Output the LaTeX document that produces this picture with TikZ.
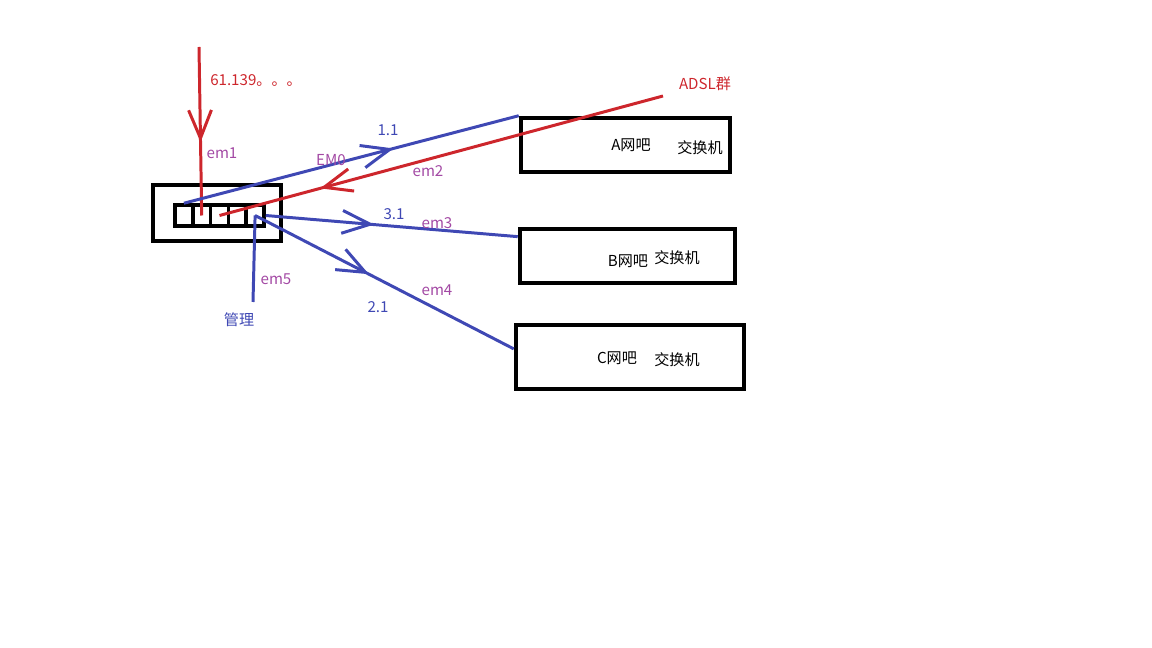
\documentclass[tikz,border=0pt]{standalone}
\usepackage{fontspec}
\setmainfont{Noto Sans CJK SC}
\usepackage{tikz}
\usetikzlibrary{arrows.meta,positioning,calc,decorations.markings}

\definecolor{penred}{RGB}{205,38,44}
\definecolor{penblue}{RGB}{63,72,180}
\definecolor{penpurple}{RGB}{163,73,164}

\begin{document}
\begin{tikzpicture}[
  x=0.02cm, y=-0.02cm,
  every node/.style={font=\fontsize{8.6pt}{10pt}\selectfont, inner sep=0pt},
  box/.style={draw, line width=2.6pt, minimum width=#1, minimum height=1.08cm},
  port/.style={draw, line width=2pt, minimum width=0.356cm, minimum height=0.42cm},
  redline/.style={draw=penred, line width=1.7pt},
  blueline/.style={draw=penblue, line width=1.7pt},
  midarrow/.style={postaction={decorate}, decoration={markings,
    mark=at position #1 with {\arrow{Straight Barb[length=16pt, width=13pt, line width=1.7pt]}}}},
  redtext/.style={text=penred},
  bluetext/.style={text=penblue},
  porttext/.style={text=penpurple}
]
  \useasboundingbox (0,0) rectangle (1152,648);

  % Router with its ports
  \node[draw, line width=2.6pt, minimum width=2.56cm, minimum height=1.12cm] (router) at (217,213) {};
  \foreach \i in {1,...,5}
    \node[port] (p\i) at ({175+17.8*(\i-0.5)},215.5) {};

  % Net bar switches
  \node[box=4.18cm] (boxA) at (625.5,145) {};
  \node[box=4.30cm] (boxB) at (627.5,256) {};
  \node[box=4.56cm, minimum height=1.28cm] (boxC) at (630,357) {};

  \node (nameA) at (631,145) {A网吧};
  \node (swA) at (700,148) {交换机};
  \node (nameB) at (628,261) {B网吧};
  \node (swB) at (677,258) {交换机};
  \node (nameC) at (617,358) {C网吧};
  \node (swC) at (677,360) {交换机};

  % Free line ends
  \coordinate (wan) at (199,47);
  \coordinate (adsl) at (663,96);
  \coordinate (mgmt) at (253,302);

  % Uplinks
  \draw[redline, midarrow=0.565] (wan) -- (p2.center);
  \draw[redline, midarrow=0.773] (adsl) -- (p3.center);

  % Links to the switches
  \draw[blueline, midarrow=0.626] (p1.north) -- (boxA.north west);
  \draw[blueline, midarrow=0.43] (p5.east) -- (boxB.170);
  \draw[blueline, midarrow=0.44] (p5.center) -- (boxC.176);
  \draw[blueline] (mgmt) -- (p5.center);

  % Labels
  \node[redtext] (wanlbl) at (256,80) {61.139。。。};
  \node[redtext] (adsllbl) at (705,84) {ADSL群};
  \node[porttext] (em1) at (222,153) {em1};
  \node[porttext] (em0) at (331,160) {EM0};
  \node[porttext] (em2) at (428,171) {em2};
  \node[porttext] (em3) at (437,223) {em3};
  \node[porttext] (em4) at (437,290) {em4};
  \node[porttext] (em5) at (276,279) {em5};
  \node[bluetext] (ipA) at (388,130) {1.1};
  \node[bluetext] (ipB) at (394,214) {3.1};
  \node[bluetext] (ipC) at (378,307) {2.1};
  \node[bluetext] (mgmtlbl) at (239,320) {管理};
\end{tikzpicture}
\end{document}
